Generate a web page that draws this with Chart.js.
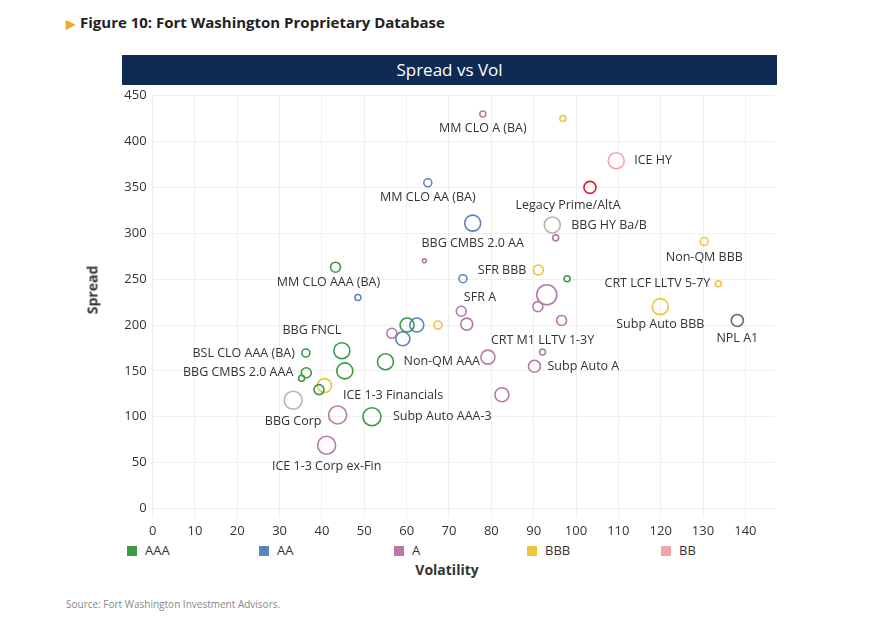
<!DOCTYPE html>
<html>
<head>
<meta charset="utf-8">
<script src="https://cdn.jsdelivr.net/npm/chart.js@4/dist/chart.umd.min.js"></script>
<style>
  body { margin:0; width:886px; height:620px; background:#fff; font-family:"Open Sans", sans-serif; position:relative; overflow:hidden; }
  .abs { position:absolute; }
  #fig { left:66px; top:12px; font-size:15px; font-weight:bold; color:#222; }
  #fig span { color:#f5a623; font-size:12px; margin-right:5px; }
  #bar { left:122px; top:55px; width:655px; height:30px; background:#0e2a55; color:#fff; font-size:17px; text-align:center; line-height:30px; }
  #wrap { left:60px; top:80px; width:715px; height:460px; }
  #ytitle { left:92px; top:290px; transform:translate(-50%,-50%) rotate(-90deg); font-size:14px; font-weight:bold; color:#333; }
  #xtitle { left:447px; top:569px; transform:translate(-50%,-50%); font-size:14px; font-weight:bold; color:#333; }
  .leg { top:541px; font-size:13px; color:#333; }
  .leg i { display:inline-block; width:10px; height:10px; margin-right:8px; vertical-align:-1px; }
  #src { left:66px; top:597px; font-size:10px; color:#888; }
</style>
</head>
<body>
<div id="fig" class="abs"><span>&#9654;</span>Figure 10: Fort Washington Proprietary Database</div>
<div id="bar" class="abs">Spread vs Vol</div>
<div id="wrap" class="abs"><canvas id="c"></canvas></div>
<div id="ytitle" class="abs">Spread</div>
<div id="xtitle" class="abs">Volatility</div>
<div id="legend"></div>
<div id="src" class="abs">Source: Fort Washington Investment Advisors.</div>
<script>
// [volatility, spread, bubble size, label]
const aaa = [
  [43.2,263,5,'MM CLO AAA (BA)'], [97.9,250.5,3,''], [60.1,200,7,''], [44.7,172,8,'BBG FNCL'],
  [36.2,169.5,4,'BSL CLO AAA (BA)'], [55.0,160,8,'Non-QM AAA'], [36.3,148,5,'BBG CMBS 2.0 AAA'],
  [35.2,142,3,''], [45.4,150,8,''], [39.3,129.6,5,'ICE 1-3 Financials'], [51.8,100,9,'Subp Auto AAA-3']
];
const aa = [
  [65.0,355,4,'MM CLO AA (BA)'], [75.6,311,8,'BBG CMBS 2.0 AA'], [73.3,250.5,4,'SFR A'],
  [48.5,230,3,''], [62.4,200,7,''], [59.1,185,7,'']
];
const singleA = [
  [78,430,3,'MM CLO A (BA)'], [95.2,295,3,''], [64.2,270,2,''], [93.1,233,10,''], [91,220,5,''],
  [72.9,215,5,''], [74.2,201,6,''], [96.6,205,5,''], [79.2,165,7,''], [92.1,170.5,3,'CRT M1 LLTV 1-3Y'],
  [90.2,155,6,'Subp Auto A'], [82.5,124,7,''], [56.5,191,5,''], [43.7,102,9,''], [41.1,69,9,'ICE 1-3 Corp ex-Fin']
];
const bbb = [
  [96.9,425,3,''], [130.3,291,4,'Non-QM BBB'], [91.1,260,5,'SFR BBB'], [133.6,245,3,'CRT LCF LLTV 5-7Y'],
  [67.4,200,4,''], [119.9,220,8,'Subp Auto BBB'], [40.6,134,7,'']
];
const bb = [[109.5,379,8,'ICE HY']];
const legacy = [[103.3,350,6,'Legacy Prime/AltA']];
const grey = [[94.4,309,8,'BBG HY Ba/B'], [33.2,118,9,'BBG Corp']];
const npl = [[138.1,205,6,'NPL A1']];

const xTicks = [0,10,20,30,40,50,60,70,80,90,100,110,120,130,140];
const yTicks = [0,50,100,150,200,250,300,350,400,450];
const legendNames = ['AAA','AA','A','BBB','BB'];

// label placement: dx, dy (px from centre), text align
const place = {
  'MM CLO A (BA)':[0,14,'center'], 'ICE HY':[10,0,'left'], 'Legacy Prime/AltA':[-22,18,'center'],
  'BBG HY Ba/B':[11,0,'left'], 'Non-QM BBB':[0,16,'center'], 'MM CLO AA (BA)':[0,15,'center'],
  'BBG CMBS 2.0 AA':[0,20,'center'], 'MM CLO AAA (BA)':[-7,15,'center'], 'SFR A':[17,19,'center'],
  'SFR BBB':[-7,0,'right'], 'CRT LCF LLTV 5-7Y':[-5,0,'right'], 'Subp Auto BBB':[0,18,'center'],
  'NPL A1':[0,18,'center'], 'CRT M1 LLTV 1-3Y':[0,-12,'center'], 'Subp Auto A':[7,0,'left'],
  'BBG FNCL':[-30,-20,'center'], 'BSL CLO AAA (BA)':[-7,0,'right'], 'BBG CMBS 2.0 AAA':[-8,0,'right'],
  'Non-QM AAA':[10,0,'left'], 'ICE 1-3 Financials':[74,6,'center'], 'BBG Corp':[0,21,'center'],
  'Subp Auto AAA-3':[12,0,'left'], 'ICE 1-3 Corp ex-Fin':[0,21,'center']
};

const groups = [
  [aaa,'#3c9a45'], [aa,'#5b86bb'], [singleA,'#b77aa8'], [bbb,'#efc33d'],
  [bb,'#f4a3ab'], [legacy,'#d42434'], [grey,'#bdb3ae'], [npl,'#6b6b6b']
];
const legendColors = ['#3c9a45','#5b86bb','#b77aa8','#efc33d','#f4a3ab'];

const lx = [127,259,394,527,661];
document.getElementById('legend').innerHTML = legendNames.map((n,i) =>
  `<div class="abs leg" style="left:${lx[i]}px"><i style="background:${legendColors[i]}"></i>${n}</div>`).join('');

const labelPlugin = {
  id: 'labels',
  afterDatasetsDraw(chart) {
    const ctx = chart.ctx;
    ctx.save();
    ctx.font = '12.5px "Open Sans"';
    ctx.fillStyle = '#333';
    ctx.textBaseline = 'middle';
    groups.forEach((g, i) => {
      const meta = chart.getDatasetMeta(i);
      g[0].forEach((p, j) => {
        if (!p[3]) return;
        const pl = place[p[3]];
        const el = meta.data[j];
        ctx.textAlign = pl[2];
        let dx = pl[0];
        if (pl[2] === 'left') dx += p[2];
        if (pl[2] === 'right') dx -= p[2];
        ctx.fillText(p[3], el.x + dx, el.y + pl[1]);
      });
    });
    ctx.restore();
  }
};

new Chart(document.getElementById('c'), {
  type: 'bubble',
  data: {
    datasets: groups.map(g => ({
      data: g[0].map(p => ({x:p[0], y:p[1], r:p[2]})),
      borderColor: g[1],
      backgroundColor: 'rgba(0,0,0,0)',
      borderWidth: 1.6,
      clip: false
    }))
  },
  options: {
    responsive: true,
    maintainAspectRatio: false,
    animation: false,
    layout: { autoPadding: false, padding: { top: 4 } },
    plugins: { legend: { display:false }, tooltip: { enabled:false } },
    scales: {
      x: {
        min: 0, max: 147,
        afterBuildTicks: s => { s.ticks = xTicks.map(v => ({value:v})); },
        afterFit: s => { s.height = 22.3; },
        grid: { color:'#efefef', drawTicks:false },
        border: { display:false },
        ticks: { color:'#333', font:{ size:13, family:'"Open Sans"' }, padding:6, maxRotation:0 }
      },
      y: {
        min: -10, max: 452,
        afterBuildTicks: s => { s.ticks = yTicks.map(v => ({value:v})); },
        afterFit: s => { s.width = 92.6; },
        grid: { color:'#efefef', drawTicks:false },
        border: { display:false },
        ticks: { color:'#333', font:{ size:13, family:'"Open Sans"' }, padding:6 }
      }
    }
  },
  plugins: [labelPlugin]
});
</script>
</body>
</html>
